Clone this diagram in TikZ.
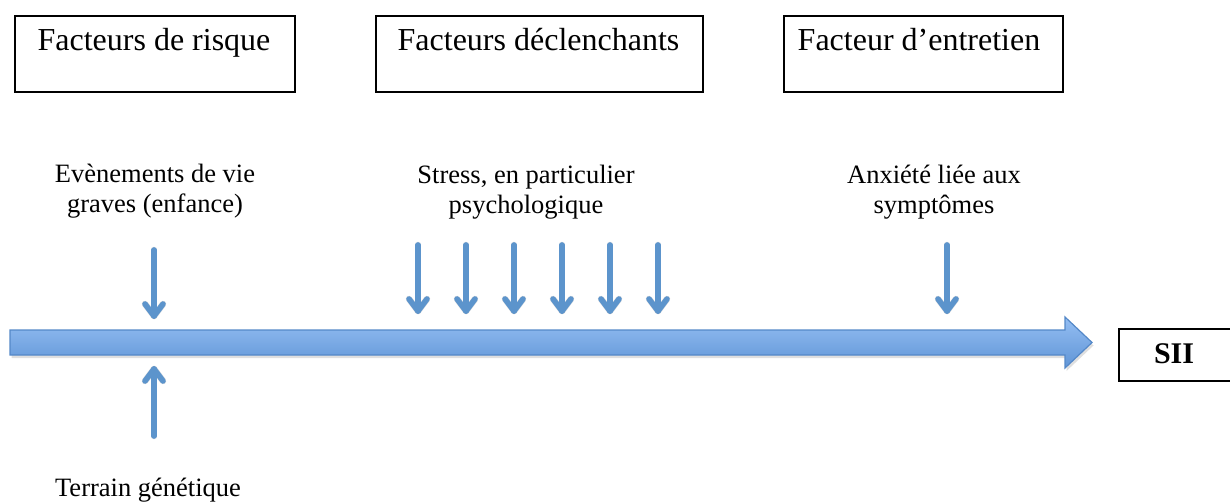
\documentclass[tikz,border=0pt]{standalone}
\usepackage{fontspec}
\setmainfont{Liberation Serif}
\usetikzlibrary{shadows,shadings}
\definecolor{arrtop}{RGB}{148,190,243}
\definecolor{arrbot}{RGB}{96,149,214}
\definecolor{arrborder}{RGB}{84,136,200}
\definecolor{smallblue}{RGB}{92,148,204}
\tikzset{
  titlebox/.style={draw=black, line width=1.8pt, anchor=north west, inner sep=0pt},
  titletext/.style={anchor=base, font=\fontsize{32}{38}\selectfont, inner sep=0pt},
  labeltext/.style={anchor=base, align=center, font=\fontsize{26.5}{30}\selectfont, inner sep=0pt},
  arrowline/.style={draw=smallblue, line width=5.6pt, line cap=round, line join=round},
  arrowshadow/.style={draw=black, opacity=0.12, line width=6.5pt, line cap=round, line join=round},
  bigarrow/.style={draw=arrborder, line width=1.2pt, top color=arrtop, bottom color=arrbot,
    drop shadow={shadow xshift=1.5pt, shadow yshift=-3pt, opacity=0.25}},
}
\begin{document}
\begin{tikzpicture}[x=1pt,y=-1pt]
\useasboundingbox (0,0) rectangle (1230,502);
% title boxes
\node[titlebox, minimum width=280pt, minimum height=76pt] (b1) at (14,15) {};
\node[titletext] (t1) at (154,51) {Facteurs de risque};
\node[titlebox, minimum width=327pt, minimum height=76pt] (b2) at (375,15) {};
\node[titletext] (t2) at (538.5,51) {Facteurs déclenchants};
\node[titlebox, minimum width=279pt, minimum height=76pt] (b3) at (783,15) {};
\node[titletext] (t3) at (919,51) {Facteur d’entretien};
% labels
\node[labeltext] (l1) at (155,213) {Evènements de vie\\graves (enfance)};
\node[labeltext] (l2) at (526,214) {Stress, en particulier\\psychologique};
\node[labeltext] (l3) at (934,214) {Anxiété liée aux\\symptômes};
\node[labeltext] (l4) at (148,496) {Terrain génétique};
% big arrow
\path[bigarrow] (10,330) -- (1065,330) -- (1065,317) -- (1092,342.5) -- (1065,368) -- (1065,355) -- (10,355) -- cycle;
% SII box
\node[draw=black, line width=1.8pt, anchor=north west, minimum width=120pt, minimum height=52pt, inner sep=0pt] (sii) at (1118,328) {};
\node[anchor=base, font=\fontsize{30}{36}\selectfont\bfseries, inner sep=0pt] (siit) at (1174,363) {SII};
% small arrows: name/x/top/tip/dir (dir=-1 for downward arrows, 1 for upward)
\foreach \n/\x/\ya/\yb/\d in {e1/154/250/316/-1, g1/154/436/369/1,
   s1/418/245/311/-1, s2/466/245/311/-1, s3/514/245/311/-1,
   s4/562/245/311/-1, s5/610/245/311/-1, s6/658/245/311/-1,
   a1/947/245/311/-1}{
  \coordinate (\n a) at (\x,\ya);
  \coordinate (\n b) at (\x,\yb);
  \begin{scope}[shift={(1.5,3)}]
    \draw[arrowshadow] (\n a) -- (\n b);
    \draw[arrowshadow] (\n b) ++(-9,12*\d) -- (\n b) -- ++(9,12*\d);
  \end{scope}
  \draw[arrowline] (\n a) -- (\n b);
  \draw[arrowline] (\n b) ++(-9,12*\d) -- (\n b) -- ++(9,12*\d);
}
\end{tikzpicture}
\end{document}
